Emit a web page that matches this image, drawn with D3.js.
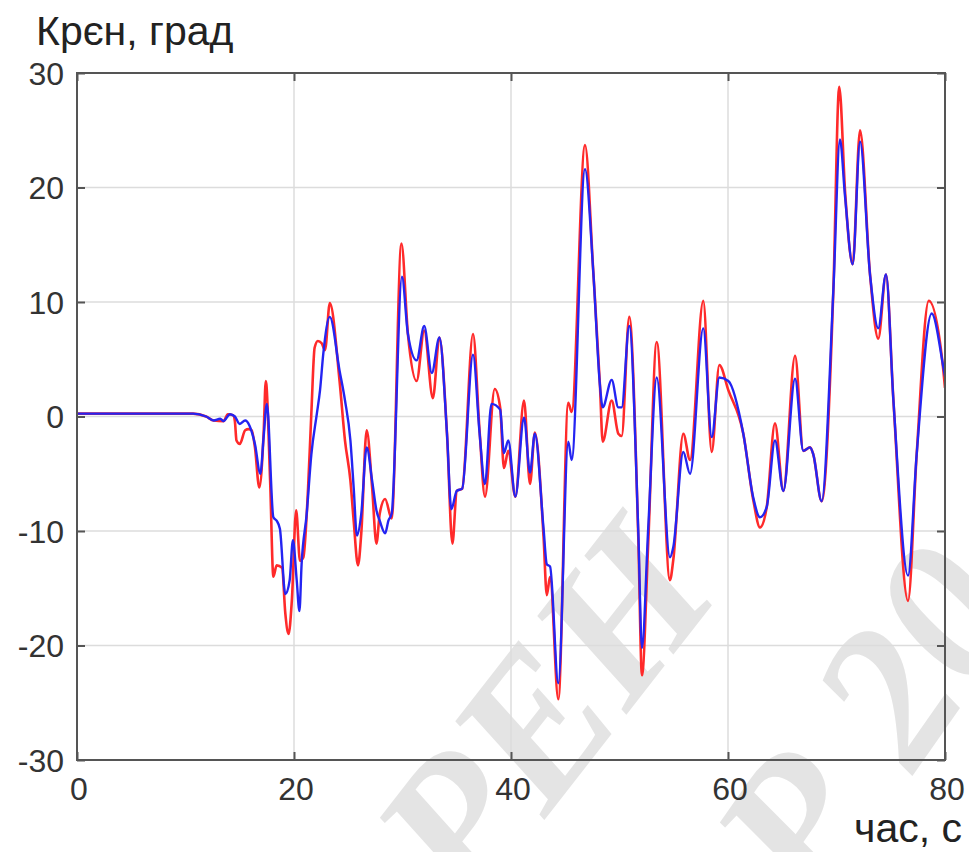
<!DOCTYPE html>
<html>
<head>
<meta charset="utf-8">
<script src="https://cdn.jsdelivr.net/npm/d3@7"></script>
<style>
  html, body { margin: 0; padding: 0; background: #fff; }
  svg { display: block; }
</style>
</head>
<body>
<svg id="chart" width="969" height="852"></svg>
<script>
// ---- data ----
const xTicks = [0, 20, 40, 60, 80];
const yTicks = [-30, -20, -10, 0, 10, 20, 30];
const titleText = "Крєн, град";
const xLabelText = "час, с";

const redTime = [0, 5, 10.7, 11.9, 12.6, 13.5, 13.9, 14.4, 14.55, 14.7, 15.0, 15.5, 15.8, 16.1, 16.4, 16.8, 17.2, 17.4, 17.8,
  18.1, 18.4, 18.9, 19.2, 19.5, 19.8, 20.2, 20.55, 20.86, 21.3, 21.6, 21.9, 22.2, 22.55, 22.86, 23.3,
  24.2, 24.7, 25.2, 25.5, 25.9, 26.2, 26.7, 27.2, 27.6, 27.9, 28.4, 29.0, 29.9, 30.5, 31.3, 32.0, 32.8, 33.4,
  34.1, 34.6, 35.0, 35.5, 36.5, 37.1, 37.6, 38.5, 39.0, 39.35, 39.75, 40.4, 41.2, 41.75, 42.2, 43.0, 43.3, 43.6,
  44.36, 45.28, 45.59, 46.82, 47.58, 48.2, 48.45, 49.28, 49.89, 50.2, 50.9, 51.73, 52.07, 52.65, 53.43,
  54.65, 54.96, 55.88, 56.5, 57.72, 58.5, 59.2, 60.03, 61.41, 62.33, 62.95, 63.57, 64.33, 65.1, 66.18,
  66.94, 67.56, 67.86, 68.63, 69.71, 70.25, 70.8, 71.49, 72.17, 73.09, 73.85, 74.56, 75.24, 76.59, 77.39,
  78.5, 79.85, 80];
const redRoll = [0.25, 0.25, 0.25, 0.0, -0.35, -0.4, 0.2, 0.1, -0.4, -2.1, -2.4, -1.2, -1.1, -1.2, -2.7, -6.2, -1.5, 3.1, -5.6,
  -14.0, -13.0, -13.2, -17.2, -19.0, -16.1, -8.2, -12.6, -12.3, -6.2, 0.3, 6.0, 6.6, 6.4, 5.8, 9.9,
  3.1, -2.1, -5.6, -9.1, -13.0, -10.2, -1.2, -6.2, -11.1, -8.5, -7.2, -8.9, 15.1, 7.2, 3.1, 7.5, 1.6, 6.9,
  -1.5, -11.1, -6.5, -6.3, 7.2, -1.2, -7.0, 2.4, 0.8, -4.5, -3.0, -7.0, 1.4, -5.9, -1.4, -10.5, -15.6, -14.0,
  -24.7, 1.2, 0.4, 23.7, 12.7, 2.7, -2.2, 1.4, -1.5, -1.7, 8.7, -10.5, -22.6, -11.0, 6.5,
  -14.3, -12.5, -1.5, -3.8, 10.1, -3.1, 4.5, 2.3, -1.5, -7.3, -9.7, -7.9, -0.6, -6.5, 5.3,
  -3.0, -2.7, -3.3, -7.4, 11.0, 28.8, 19.5, 13.3, 25.0, 12.4, 6.8, 12.4, 1.5, -16.1, -3.3,
  10.1, 4.0, 2.5];

const blueTime = [0, 5, 10.7, 11.9, 12.6, 13.2, 13.5, 14.1, 14.55, 15.0, 15.5, 15.9, 16.4, 16.9, 17.2, 17.5,
  18.1, 18.4, 18.7, 19.2, 19.6, 19.9, 20.25, 20.5, 20.7, 21.17, 21.6, 22.1, 22.4, 22.7, 23.3,
  24.2, 24.7, 25.2, 25.5, 25.8, 26.2, 26.7, 27.2, 27.6, 27.9, 28.4, 28.7, 29.0, 29.95, 30.5, 31.3, 32.0, 32.7, 33.4,
  34.1, 34.5, 35.0, 35.5, 36.5, 37.1, 37.6, 38.2, 39.0, 39.35, 39.75, 40.4, 41.2, 41.75, 42.2, 43.0, 43.3, 43.6,
  44.36, 45.28, 45.59, 46.82, 47.58, 48.2, 48.45, 49.28, 49.89, 50.2, 50.9, 51.73, 52.07, 52.65, 53.43,
  54.65, 54.96, 55.88, 56.5, 57.72, 58.5, 59.2, 60.03, 61.41, 62.33, 62.95, 63.57, 64.33, 65.1, 66.18,
  66.94, 67.56, 67.86, 68.63, 69.71, 70.32, 70.78, 71.49, 72.17, 73.09, 73.85, 74.56, 75.24, 76.59, 77.39,
  78.77, 79.85, 80];
const blueRoll = [0.25, 0.25, 0.25, 0.0, -0.35, -0.2, -0.4, 0.2, 0.0, -0.65, -0.35, -0.8, -2.4, -5.0, -1.8, 1.1,
  -8.8, -9.1, -9.8, -15.5, -14.3, -10.8, -14.3, -17.0, -12.9, -8.5, -3.3, 0.2, 2.3, 5.5, 8.7,
  4.0, 1.4, -2.1, -6.2, -10.4, -8.5, -2.7, -5.6, -8.2, -9.1, -10.2, -9.1, -8.5, 12.2, 7.2, 4.9, 7.9, 3.8, 6.9,
  -1.5, -8.1, -6.5, -6.3, 5.4, -1.4, -5.9, 1.1, 0.6, -3.2, -2.1, -7.0, -0.1, -4.9, -1.5, -9.8, -12.9, -13.1,
  -23.3, -2.2, -3.8, 21.6, 12.7, 2.7, 0.8, 3.2, 0.8, 0.8, 7.9, -10.0, -20.2, -9.7, 3.4,
  -12.3, -11.4, -3.1, -5.0, 7.7, -1.8, 3.4, 3.1, -1.5, -7.1, -8.8, -7.9, -2.1, -6.5, 3.3,
  -3.0, -2.7, -3.3, -7.4, 11.0, 24.2, 19.3, 13.3, 24.0, 12.4, 7.7, 12.4, 1.5, -13.9, -3.3,
  9.0, 4.3, 3.5];

// ---- layout ----
const svg = d3.select("#chart");
const W = 969, H = 852;
const plot = { left: 77, right: 945, top: 73, bottom: 760 };

const x = d3.scaleLinear().domain([0, 80]).range([plot.left, plot.right]);
const y = d3.scaleLinear().domain([-30, 30]).range([plot.bottom, plot.top]);

svg.append("rect").attr("width", W).attr("height", H).attr("fill", "#fff");

// watermark (light grey, behind the chart)
const wm = svg.append("g").attr("fill", "#e4e4e4")
  .attr("font-family", "Liberation Serif").attr("font-weight", "bold").attr("font-style", "italic");
wm.append("text").attr("transform", "translate(470,915) rotate(-52)")
  .attr("font-size", 200).text("РЕН");
wm.append("text").attr("transform", "translate(815,915) rotate(-55)")
  .attr("font-size", 200).text("Р 20");

// grid
const grid = svg.append("g").attr("stroke", "#dcdcdc").attr("stroke-width", 1.5);
grid.selectAll("line.gx").data(xTicks.slice(1, -1)).join("line")
  .attr("x1", d => x(d)).attr("x2", d => x(d)).attr("y1", plot.top).attr("y2", plot.bottom);
grid.selectAll("line.gy").data(yTicks.slice(1, -1)).join("line")
  .attr("y1", d => y(d)).attr("y2", d => y(d)).attr("x1", plot.left).attr("x2", plot.right);

// lines
const line = d3.line().x(d => x(d[0])).y(d => y(d[1])).curve(d3.curveMonotoneX);
const redData = redTime.map((t, i) => [t, redRoll[i]]);
const blueData = blueTime.map((t, i) => [t, blueRoll[i]]);

svg.append("clipPath").attr("id", "clip").append("rect")
  .attr("x", plot.left).attr("y", plot.top)
  .attr("width", plot.right - plot.left).attr("height", plot.bottom - plot.top);

const lines = svg.append("g").attr("clip-path", "url(#clip)");
lines.append("path").datum(redData).attr("d", line)
  .attr("fill", "none").attr("stroke", "#ff2a2a").attr("stroke-width", 2.6)
  .attr("stroke-linejoin", "round");
lines.append("path").datum(blueData).attr("d", line)
  .attr("fill", "none").attr("stroke", "#2424f2").attr("stroke-width", 2.4)
  .attr("stroke-linejoin", "round");

// axes (inner ticks on all four sides)
const axisColor = "#555";
const tickLen = 8;
const gB = svg.append("g").attr("transform", `translate(0,${plot.bottom})`)
  .call(d3.axisBottom(x).tickValues(xTicks).tickSize(-tickLen).tickFormat(""));
const gT = svg.append("g").attr("transform", `translate(0,${plot.top})`)
  .call(d3.axisTop(x).tickValues(xTicks).tickSize(-tickLen).tickFormat(""));
const gL = svg.append("g").attr("transform", `translate(${plot.left},0)`)
  .call(d3.axisLeft(y).tickValues(yTicks).tickSize(-tickLen).tickFormat(""));
const gR = svg.append("g").attr("transform", `translate(${plot.right},0)`)
  .call(d3.axisRight(y).tickValues(yTicks).tickSize(-tickLen).tickFormat(""));
[gB, gT, gL, gR].forEach(g => {
  g.select(".domain").remove();
  g.selectAll(".tick line").attr("stroke", axisColor).attr("stroke-width", 2);
});

svg.append("rect")
  .attr("x", plot.left).attr("y", plot.top)
  .attr("width", plot.right - plot.left).attr("height", plot.bottom - plot.top)
  .attr("fill", "none").attr("stroke", axisColor).attr("stroke-width", 2);

// tick labels
const labFont = "Liberation Sans, Arial, sans-serif";
svg.append("g").selectAll("text").data(yTicks).join("text")
  .attr("x", plot.left - 13).attr("y", d => y(d)).attr("dy", "0.36em")
  .attr("text-anchor", "end").attr("font-family", labFont).attr("font-size", 32)
  .attr("fill", "#333").text(d => d);
svg.append("g").selectAll("text").data(xTicks).join("text")
  .attr("x", d => x(d) + 2).attr("y", 800)
  .attr("text-anchor", "middle").attr("font-family", labFont).attr("font-size", 32)
  .attr("fill", "#333").text(d => d);

// titles
svg.append("text").attr("x", 36).attr("y", 45)
  .attr("font-family", labFont).attr("font-size", 41).attr("fill", "#222")
  .text(titleText);
svg.append("text").attr("x", 962).attr("y", 842).attr("text-anchor", "end")
  .attr("font-family", labFont).attr("font-size", 41).attr("fill", "#222")
  .text(xLabelText);
</script>
</body>
</html>
